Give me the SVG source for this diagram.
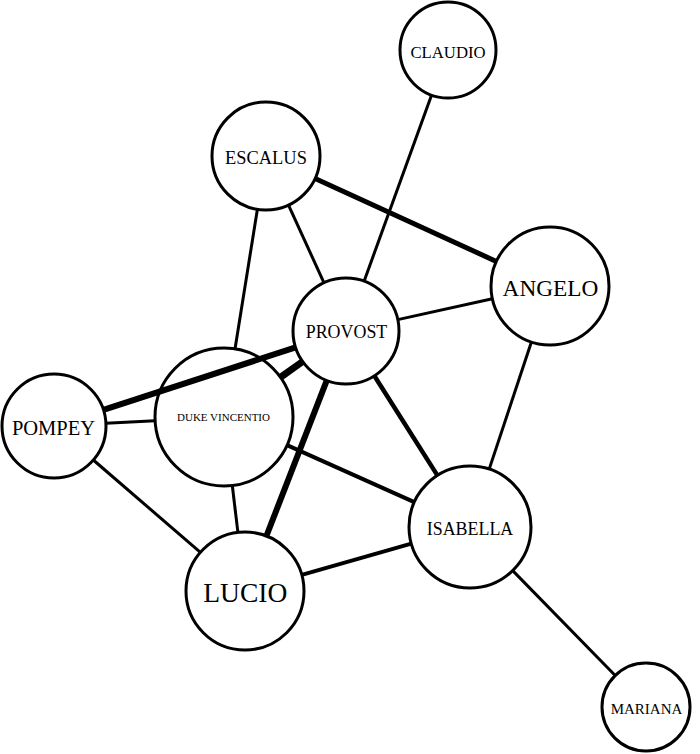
<svg xmlns="http://www.w3.org/2000/svg" width="700" height="754" viewBox="0 0 700 754">
<style>
.node circle{fill:#fff;stroke:#000;stroke-width:3}
.node text{font-family:'Liberation Serif',Tinos,'Times New Roman','DejaVu Serif',serif;fill:#000;text-anchor:middle}
#edges line{stroke:#000;stroke-linecap:butt}
</style>
<rect width="700" height="754" fill="#fff"/>
<g id="nodes">
<g id="n-claudio" class="node"><circle cx="448" cy="50" r="48"/><text x="448" y="58" font-size="16.7">CLAUDIO</text></g>
<g id="n-escalus" class="node"><circle cx="266" cy="156" r="54"/><text x="266" y="163.6" font-size="18.4">ESCALUS</text></g>
<g id="n-angelo" class="node"><circle cx="550" cy="286" r="59"/><text x="550.5" y="295.7" font-size="23.3">ANGELO</text></g>
<g id="n-provost" class="node"><circle cx="346" cy="331" r="53"/><text x="346.5" y="338.4" font-size="17.9">PROVOST</text></g>
<g id="n-pompey" class="node"><circle cx="54" cy="426" r="52"/><text x="53.5" y="434.5" font-size="20.5">POMPEY</text></g>
<g id="n-duke" class="node"><circle cx="224" cy="417" r="69"/><text x="223.5" y="421" font-size="11">DUKE VINCENTIO</text></g>
<g id="n-lucio" class="node"><circle cx="245" cy="591" r="59"/><text x="245.3" y="602.3" font-size="27.5">LUCIO</text></g>
<g id="n-isabella" class="node"><circle cx="470" cy="527" r="61"/><text x="470" y="534.5" font-size="17.9">ISABELLA</text></g>
<g id="n-mariana" class="node"><circle cx="646" cy="707" r="44"/><text x="646.5" y="714.2" font-size="15">MARIANA</text></g>
</g>
<g id="edges">
<line x1="431.6" y1="95.1" x2="364.1" y2="281.2" stroke-width="3"/>
<line x1="315.1" y1="178.5" x2="496.3" y2="261.4" stroke-width="5"/>
<line x1="288.5" y1="205.1" x2="324.0" y2="282.8" stroke-width="3"/>
<line x1="257.4" y1="209.3" x2="235.0" y2="348.9" stroke-width="3"/>
<line x1="397.8" y1="319.6" x2="492.4" y2="298.7" stroke-width="3"/>
<line x1="295.6" y1="347.4" x2="103.4" y2="409.9" stroke-width="6"/>
<line x1="302.7" y1="361.5" x2="280.4" y2="377.3" stroke-width="7"/>
<line x1="374.3" y1="375.8" x2="437.4" y2="475.4" stroke-width="4.5"/>
<line x1="326.8" y1="380.4" x2="266.4" y2="536.0" stroke-width="6"/>
<line x1="105.9" y1="423.2" x2="155.1" y2="420.7" stroke-width="3"/>
<line x1="93.3" y1="460.0" x2="200.4" y2="552.4" stroke-width="3"/>
<line x1="232.3" y1="485.5" x2="237.9" y2="532.4" stroke-width="3"/>
<line x1="287.0" y1="445.2" x2="414.3" y2="502.1" stroke-width="4"/>
<line x1="301.8" y1="574.9" x2="411.3" y2="543.7" stroke-width="4"/>
<line x1="531.4" y1="342.0" x2="489.2" y2="469.1" stroke-width="3"/>
<line x1="512.7" y1="570.6" x2="615.2" y2="675.5" stroke-width="3"/>
</g>
</svg>
